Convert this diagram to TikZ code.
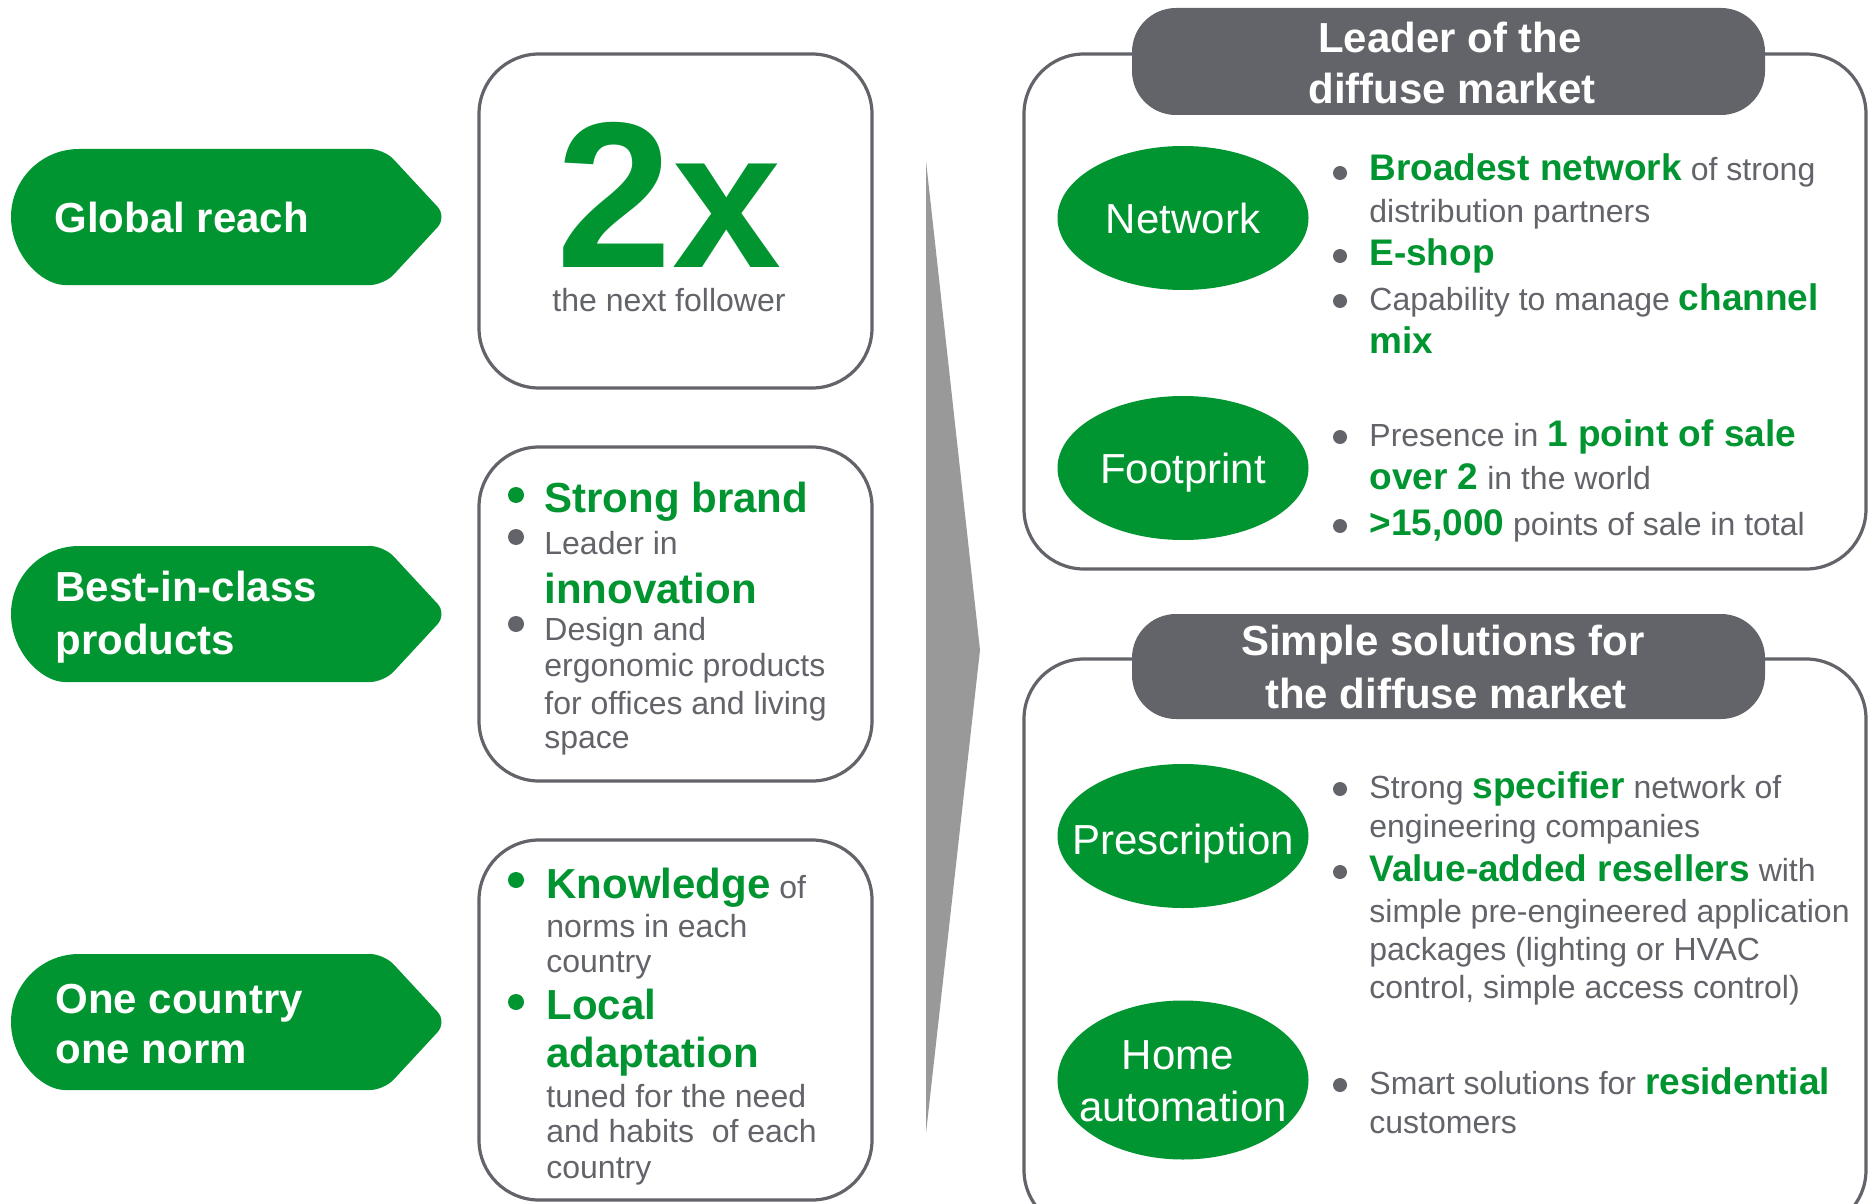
\documentclass[tikz,border=0pt]{standalone}
\usepackage{fontspec}
\setmainfont{Liberation Sans}
\usetikzlibrary{shapes.geometric}
\definecolor{sgreen}{HTML}{009530}
\definecolor{tgray}{HTML}{626469}
\definecolor{hgray}{HTML}{626469}
\definecolor{agray}{HTML}{999999}
\newcommand\gR[1]{{\fontsize{18.5}{22}\selectfont\bfseries\color{sgreen}#1}}
\newcommand\gL[1]{{\fontsize{21}{25}\selectfont\bfseries\color{sgreen}#1}}
\newcommand\pillshape[1]{\fill[sgreen] (79,#1+68) arc[start angle=90,end angle=270,radius=68] [rounded corners=7pt] -- (384,#1-68) -- (447,#1) -- (384,#1+68) -- cycle;}
\tikzset{
  body/.style={inner sep=0pt, anchor=base west, text=tgray, font=\fontsize{16}{19}\selectfont},
  bodyc/.style={body, anchor=base},
  pilltext/.style={inner sep=0pt, anchor=base west, text=white, font=\fontsize{21}{25}\selectfont\bfseries},
  headtext/.style={inner sep=0pt, anchor=base, text=white, font=\fontsize{21}{25}\selectfont\bfseries},
  elltext/.style={inner sep=0pt, anchor=base, text=white, font=\fontsize{21}{25}\selectfont},
  ell/.style={ellipse, fill=sgreen, inner sep=0pt, minimum width=125.5pt, minimum height=72pt},
  lbox/.style={draw=tgray, line width=1.6pt, rounded corners=30pt, fill=white, minimum width=196.5pt, inner sep=0pt},
  panel/.style={draw=tgray, line width=1.6pt, rounded corners=30pt, fill=white, inner sep=0pt, minimum width=421pt},
  header/.style={fill=hgray, rounded corners=22pt, inner sep=0pt, minimum width=316.5pt},
  dotr/.style={circle, fill=tgray, inner sep=0pt, minimum size=7pt},
  dotl/.style={circle, fill=#1, inner sep=0pt, minimum size=8pt},
}
\begin{document}
\begin{tikzpicture}[x=0.5pt,y=-0.5pt]
\useasboundingbox (0,0) rectangle (1870,1204);
\clip (0,0) rectangle (1870,1204);
\fill[white] (0,0) rectangle (1870,1204);

% left pills
\pillshape{217}
\pillshape{614}
\pillshape{1022}
\node[pilltext] (gr) at (54,233) {Global reach};
\node[pilltext] (bc1) at (55,601) {Best-in-class};
\node[pilltext] (bc2) at (55,654) {products};
\node[pilltext] (oc1) at (55,1013) {One country};
\node[pilltext] (oc2) at (55,1063) {one norm};

% middle boxes
\node[lbox, minimum height=167pt] (box1) at (675.5,221) {};
\node[lbox, minimum height=167pt] (box2) at (675.5,614) {};
\node[lbox, minimum height=180pt] (box3) at (675.5,1020) {};

\node[inner sep=0pt, anchor=base, text=sgreen, text depth=0pt, font=\fontsize{104}{104}\selectfont\bfseries] (two) at (669,267) {2{\fontsize{98}{98}\selectfont x}};
\node[bodyc] (fol) at (669,311) {the next follower};

\node[dotl=sgreen] (b21) at (516,495) {};
\node[dotl=tgray] (b22) at (516,537) {};
\node[dotl=tgray] (b23) at (516,624) {};
\node[body] (sb) at (544,512) {\gL{Strong brand}};
\node[body] (li) at (544,554) {Leader in};
\node[body] (inn) at (544,603) {\gL{innovation}};
\node[body] (da) at (544,640) {Design and};
\node[body] (ep) at (544,676) {ergonomic products};
\node[body] (fo) at (544,714) {for offices and living};
\node[body] (spc) at (544,748) {space};

\node[dotl=sgreen] (b31) at (516,880) {};
\node[dotl=sgreen] (b32) at (516,1002) {};
\node[body] (kn) at (546,898) {\gL{Knowledge} of};
\node[body] (nie) at (546,937) {norms in each};
\node[body] (cy1) at (546,972) {country};
\node[body] (lo) at (546,1019) {\gL{Local}};
\node[body] (ad) at (546,1067) {\gL{adaptation}};
\node[body] (tu) at (546,1107) {tuned for the need};
\node[body] (ah) at (546,1142) {and habits~ of each};
\node[body] (cy2) at (546,1178) {country};

% gray arrow
\fill[agray] (926,161) -- (980,650) -- (926,1133) -- cycle;

% right panels
\node[panel, minimum height=257.5pt] (pan1) at (1445,311.5) {};
\node[header, minimum height=53.5pt] (head1) at (1448.5,61.5) {};
\node[headtext] (h1a) at (1450,53) {Leader of the};
\node[headtext] (h1b) at (1452,104) {diffuse market};

\node[ell] (net) at (1183,218) {};
\node[elltext] (nett) at (1183,234) {Network};
\node[ell] (foot) at (1183,468) {};
\node[elltext] (foott) at (1183,483) {Footprint};

\node[dotr] (d1) at (1340,173) {};
\node[dotr] (d2) at (1340,256) {};
\node[dotr] (d3) at (1340,301) {};
\node[dotr] (d4) at (1340,437) {};
\node[dotr] (d5) at (1340,526) {};
\node[body] (r1) at (1369,181) {\gR{Broadest network} of strong};
\node[body] (r2) at (1369,222) {distribution partners};
\node[body] (r3) at (1369,265) {\gR{E-shop}};
\node[body] (r4) at (1369,310) {Capability to manage \gR{channel}};
\node[body] (r5) at (1369,353) {\gR{mix}};
\node[body] (f1) at (1369,446) {Presence in \gR{1 point of sale}};
\node[body] (f2) at (1369,489) {\gR{over 2} in the world};
\node[body] (f3) at (1369,535) {\gR{>15,000} points of sale in total};

\node[panel, minimum height=285.5pt] (pan2) at (1445,944.5) {};
\node[header, minimum height=52.5pt] (head2) at (1448.5,666.5) {};
\node[headtext] (h2a) at (1443,655) {Simple solutions for};
\node[headtext] (h2b) at (1446,708) {the diffuse market};

\node[ell] (pres) at (1183,836) {};
\node[elltext] (prest) at (1183,854) {Prescription};
\node[ell, minimum height=79.5pt] (home) at (1183,1080) {};
\node[elltext] (homet1) at (1178,1069) {Home};
\node[elltext] (homet2) at (1183,1121) {automation};

\node[dotr] (e1) at (1340,789) {};
\node[dotr] (e2) at (1340,872) {};
\node[dotr] (e3) at (1340,1085) {};
\node[body] (s1) at (1369,798) {Strong \gR{specifier} network of};
\node[body] (s2) at (1369,837) {engineering companies};
\node[body] (s3) at (1369,881) {\gR{Value-added resellers} with};
\node[body] (s4) at (1369,922) {simple pre-engineered application};
\node[body] (s5) at (1369,960) {packages (lighting or HVAC};
\node[body] (s6) at (1369,998) {control, simple access control)};
\node[body] (m1) at (1369,1094) {Smart solutions for \gR{residential}};
\node[body] (m2) at (1369,1133) {customers};
\end{tikzpicture}
\end{document}
